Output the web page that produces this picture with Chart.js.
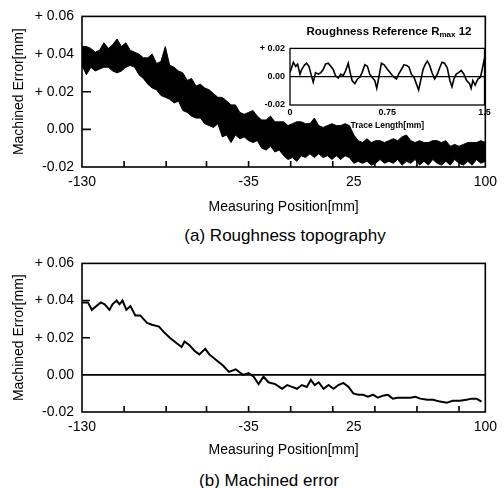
<!DOCTYPE html>
<html>
<head>
<meta charset="utf-8">
<script src="https://cdn.jsdelivr.net/npm/chart.js@4.4.0/dist/chart.umd.min.js"></script>
<style>
  html, body { margin: 0; padding: 0; background: #fff; }
  body { width: 504px; height: 488px; position: relative; overflow: hidden;
         font-family: "Liberation Sans", Arial, sans-serif; color: #000; }
  canvas { position: absolute; }
  .cap { position: absolute; font-size: 17px; white-space: nowrap; transform: translate(-50%, -50%); }
  #insetTitle { position: absolute; font-size: 11.5px; font-weight: bold; white-space: nowrap; transform: translate(-50%, -50%); }
  #insetTitle sub { font-size: 8px; vertical-align: -2px; }
</style>
</head>
<body>
<canvas id="topChart" style="left:0;top:0" width="504" height="216"></canvas>
<canvas id="insetChart" style="left:250px;top:38px" width="244" height="94"></canvas>
<canvas id="botChart" style="left:0;top:247px" width="504" height="212"></canvas>
<div id="insetTitle" style="left:389px;top:32px">Roughness Reference R<sub>max</sub> 12</div>
<div class="cap" style="left:285px;top:236px">(a) Roughness topography</div>
<div class="cap" style="left:269px;top:481px">(b) Machined error</div>

<script>
// ---------- data ----------
// axis ticks (main charts)
const yTickValues = [-0.02, 0, 0.02, 0.04, 0.06];
const yTickLabels = ["-0.02", "0.00", "+ 0.02", "+ 0.04", "+ 0.06"];
const xTickValues = [-130, -35, 25, 100];
const xTickLabels = ["-130", "-35", "25", "100"];
const xTickMarks = [-106, -82, -59, -35, -11, 13, 37, 61, 85];

// (a) roughness topography: upper / lower edge of the noisy trace
const posTop = [
  -130, -127.5, -125, -122.5, -120, -117.5, -115, -112.5, -110, -107.5,
  -105, -102.5, -100, -97.5, -95, -92.5, -90, -87.5, -85, -82.5,
  -80, -77.5, -75, -72.5, -70, -67.5, -65, -62.5, -60, -57.5,
  -55, -52.5, -50, -47.5, -45, -42.5, -40, -37.5, -35, -32.5,
  -30, -27.5, -25, -22.5, -20, -17.5, -15, -12.5, -10, -7.5,
  -5, -2.5, 0, 2.5, 5, 7.5, 10, 12.5, 15, 17.5,
  20, 22.5, 25, 27.5, 30, 32.5, 35, 37.5, 40, 42.5,
  45, 47.5, 50, 52.5, 55, 57.5, 60, 62.5, 65, 67.5,
  70, 72.5, 75, 77.5, 80, 82.5, 85, 87.5, 90, 92.5,
  95, 97.5, 100
];
const roughUpper = [
  0.044, 0.044, 0.043, 0.041, 0.042, 0.046, 0.043, 0.045, 0.048, 0.044,
  0.046, 0.042, 0.041, 0.040, 0.038, 0.038, 0.040, 0.035, 0.036, 0.044,
  0.034, 0.033, 0.031, 0.030, 0.026, 0.027, 0.023, 0.024, 0.022, 0.021,
  0.019, 0.017, 0.017, 0.015, 0.013, 0.013, 0.009, 0.008, 0.009, 0.010,
  0.007, 0.005, 0.005, 0.007, 0.004, 0.004, 0.004, 0.002, 0.003, 0.004,
  0.004, 0.003, 0.003, 0.006, 0.002, 0.001, 0.002, 0.003, 0.002, 0.002,
  0.003, 0.002, -0.003, -0.006, -0.007, -0.005, -0.007, -0.006, -0.006, -0.007,
  -0.006, -0.005, -0.006, -0.004, -0.003, -0.006, -0.007, -0.006, -0.007, -0.007,
  -0.006, -0.006, -0.007, -0.006, -0.009, -0.008, -0.009, -0.008, -0.007, -0.007,
  -0.007, -0.006, -0.007
];
const roughLower = [
  0.034, 0.029, 0.033, 0.031, 0.032, 0.033, 0.033, 0.031, 0.030, 0.031,
  0.033, 0.034, 0.033, 0.029, 0.027, 0.024, 0.022, 0.021, 0.018, 0.017,
  0.016, 0.014, 0.015, 0.010, 0.009, 0.007, 0.006, 0.006, 0.003, 0.002,
  0.001, 0.003, -0.004, -0.003, -0.007, -0.003, -0.005, -0.004, -0.006, -0.007,
  -0.006, -0.010, -0.011, -0.009, -0.012, -0.011, -0.014, -0.016, -0.015, -0.017,
  -0.014, -0.015, -0.013, -0.015, -0.013, -0.015, -0.014, -0.016, -0.014, -0.016,
  -0.014, -0.015, -0.018, -0.017, -0.018, -0.017, -0.019, -0.018, -0.016, -0.018,
  -0.017, -0.018, -0.016, -0.019, -0.017, -0.018, -0.016, -0.019, -0.017, -0.019,
  -0.016, -0.018, -0.019, -0.017, -0.019, -0.016, -0.018, -0.019, -0.017, -0.019,
  -0.016, -0.018, -0.017
];

// inset: roughness reference trace
const traceX = [
  0, 0.026, 0.044, 0.059, 0.077, 0.090, 0.110, 0.128, 0.146, 0.162,
  0.179, 0.197, 0.218, 0.238, 0.256, 0.274, 0.295, 0.315, 0.333, 0.351,
  0.372, 0.392, 0.410, 0.428, 0.449, 0.464, 0.479, 0.500, 0.521, 0.538,
  0.556, 0.577, 0.597, 0.615, 0.633, 0.654, 0.669, 0.685, 0.705, 0.726,
  0.744, 0.762, 0.782, 0.803, 0.821, 0.838, 0.859, 0.879, 0.900, 0.918,
  0.936, 0.956, 0.974, 0.992, 1.008, 1.026, 1.044, 1.059, 1.077, 1.095,
  1.115, 1.136, 1.154, 1.172, 1.192, 1.213, 1.233, 1.249, 1.264, 1.282,
  1.300, 1.321, 1.341, 1.362, 1.385, 1.397, 1.410, 1.428, 1.449, 1.469,
  1.487, 1.500
];
const traceY = [
  0.0029, 0.0102, 0.0073, 0.0089, 0.0018, 0.0051, 0.0080, 0.0095, 0.0073, 0.0018,
  -0.0038, 0.0029, 0.0018, 0.0029, 0.0051, 0.0089, 0.0095, 0.0073, 0.0051, 0.0007,
  -0.0009, 0.0018, 0.0007, 0.0040, 0.0095, 0.0029, -0.0027, -0.0049, -0.0016, -0.0004,
  0.0029, 0.0084, 0.0073, 0.0018, -0.0004, -0.0027, -0.0082, -0.0004, 0.0095, 0.0084,
  0.0062, 0.0040, 0.0018, -0.0004, -0.0016, 0.0018, 0.0051, 0.0084, 0.0080, 0.0067,
  0.0018, -0.0004, -0.0049, -0.0093, -0.0027, 0.0051, 0.0089, 0.0111, 0.0080, 0.0029,
  -0.0016, 0.0018, 0.0062, 0.0102, 0.0095, 0.0062, -0.0027, -0.0071, -0.0016, 0.0018,
  0.0029, 0.0044, 0.0018, -0.0027, -0.0049, -0.0082, -0.0027, -0.0060, -0.0016, -0.0004,
  0.0073, 0.0129
];
const insetYTicks = [-0.02, 0, 0.02];
const insetYLabels = ["-0.02", "0.00", "+ 0.02"];
const insetXTicks = [0, 0.75, 1.5];
const insetXLabels = ["0", "0.75", "1.5"];

// (b) machined error
const posB = [
  -130, -126.6, -124.4, -119.3, -117.1, -114.3, -112.6, -110.3, -108.6, -106.9,
  -104.7, -102.4, -99.6, -96.8, -92.9, -90.1, -86.1, -83.3, -79.9, -76.0,
  -73.2, -71.5, -68.7, -65.9, -63.1, -59.7, -57.4, -53.5, -49.6, -46.2,
  -42.3, -38.3, -35.0, -32.1, -29.3, -26.5, -23.7, -19.8, -15.8, -13.0,
  -10.2, -7.4, -4.6, -1.8, 0.5, 2.7, 5.0, 7.8, 10.6, 13.4,
  16.2, 19.0, 21.9, 24.7, 27.5, 30.3, 33.1, 35.9, 38.7, 41.5,
  44.4, 47.2, 50.0, 53.4, 57.3, 60.1, 62.9, 66.9, 70.2, 74.2,
  78.1, 81.5, 85.4, 89.3, 92.2, 95.0, 97.8
];
const errB = [
  0.039, 0.039, 0.035, 0.039, 0.038, 0.035, 0.038, 0.040, 0.038, 0.040,
  0.035, 0.037, 0.032, 0.032, 0.028, 0.027, 0.026, 0.023, 0.020, 0.017,
  0.015, 0.018, 0.016, 0.013, 0.011, 0.014, 0.011, 0.008, 0.005, 0.0016,
  0.003, 0.000, 0.001, -0.001, -0.005, -0.001, -0.004, -0.005, -0.0075, -0.0055,
  -0.0065, -0.0075, -0.0055, -0.0065, -0.0027, -0.0055, -0.004, -0.0075, -0.0055, -0.0075,
  -0.0055, -0.0043, -0.0064, -0.010, -0.0107, -0.0107, -0.0118, -0.0107, -0.0123, -0.0112,
  -0.0107, -0.0128, -0.0123, -0.0123, -0.0123, -0.0118, -0.0128, -0.0134, -0.0134, -0.0144,
  -0.015, -0.0139, -0.0139, -0.0134, -0.0128, -0.0128, -0.0144
];

// ---------- helpers ----------
Chart.defaults.font.family = '"Liberation Sans", Arial, sans-serif';
Chart.defaults.color = "#000";

function pts(xs, ys) {
  return xs.map((x, i) => ({ x, y: ys[i] }));
}

// frame box + inward tick marks + optional zero line, placed with the chart's scales
const framePlugin = {
  id: "frame",
  afterDatasetsDraw(chart, args, o) {
    const { ctx, chartArea: a, scales } = chart;
    ctx.save();
    ctx.strokeStyle = "#000";
    ctx.lineWidth = o.lineWidth;
    ctx.strokeRect(a.left, a.top, a.right - a.left, a.bottom - a.top);
    ctx.beginPath();
    (o.yMarks || []).forEach(v => {
      const y = scales.y.getPixelForValue(v);
      ctx.moveTo(a.left, y); ctx.lineTo(a.left + o.yLen, y);
    });
    (o.xMarks || []).forEach(v => {
      const x = scales.x.getPixelForValue(v);
      ctx.moveTo(x, a.bottom); ctx.lineTo(x, a.bottom - o.xLen);
    });
    if (o.zeroLine) {
      const y = scales.y.getPixelForValue(0);
      ctx.moveTo(a.left, y); ctx.lineTo(a.right, y);
    }
    ctx.stroke();
    ctx.restore();
  }
};

function mainScales(xHeight) {
  return {
    x: {
      type: "linear", min: -130, max: 100,
      afterBuildTicks: s => { s.ticks = xTickValues.map(v => ({ value: v })); },
      afterFit: s => { s.height = xHeight; },
      grid: { display: false, drawTicks: false },
      border: { display: false },
      ticks: { padding: 7, autoSkip: false, maxRotation: 0, font: { size: 14 },
               callback: (v, i) => xTickLabels[i] },
      title: { display: true, text: "Measuring Position[mm]", font: { size: 14 },
               padding: { top: 0, bottom: 0 } }
    },
    y: {
      type: "linear", min: -0.02, max: 0.06,
      afterBuildTicks: s => { s.ticks = yTickValues.map(v => ({ value: v })); },
      afterFit: s => { s.width = 82; },
      grid: { display: false, drawTicks: false },
      border: { display: false },
      ticks: { padding: 8, font: { size: 14 }, callback: (v, i) => yTickLabels[i] },
      title: { display: true, text: "Machined Error[mm]", font: { size: 14 },
               padding: { top: 11, bottom: 0 } }
    }
  };
}

// ---------- (a) roughness topography ----------
new Chart(document.getElementById("topChart"), {
  type: "line",
  data: {
    datasets: [
      { data: pts(posTop, roughUpper), borderColor: "#000", borderWidth: 1,
        pointRadius: 0, fill: false },
      { data: pts(posTop, roughLower), borderColor: "#000", borderWidth: 1,
        pointRadius: 0, fill: "-1", backgroundColor: "#000" }
    ]
  },
  options: {
    responsive: false, animation: false,
    layout: { padding: { top: 15, right: 12, left: 0, bottom: 0 } },
    plugins: {
      legend: { display: false }, tooltip: { enabled: false },
      frame: { lineWidth: 1.6, yMarks: [0, 0.02, 0.04], yLen: 9, xMarks: xTickMarks, xLen: 6 }
    },
    scales: mainScales(49)
  },
  plugins: [framePlugin]
});

// ---------- inset: roughness reference ----------
new Chart(document.getElementById("insetChart"), {
  type: "line",
  data: {
    datasets: [
      { data: pts(traceX, traceY), borderColor: "#000", borderWidth: 1.6,
        pointRadius: 0, fill: false }
    ]
  },
  options: {
    responsive: false, animation: false,
    layout: { padding: { top: 6, right: 9.5, left: 0, bottom: 0 } },
    plugins: {
      legend: { display: false }, tooltip: { enabled: false },
      frame: { lineWidth: 1.3, zeroLine: true }
    },
    scales: {
      x: {
        type: "linear", min: 0, max: 1.5,
        afterBuildTicks: s => { s.ticks = insetXTicks.map(v => ({ value: v })); },
        afterFit: s => { s.height = 27; },
        grid: { display: false, drawTicks: false },
        border: { display: false },
        ticks: { padding: 2, autoSkip: false, maxRotation: 0,
                 font: { size: 9, weight: "bold" }, callback: (v, i) => insetXLabels[i] },
        title: { display: true, text: "Trace Length[mm]", font: { size: 8.5, weight: "bold" },
                 padding: { top: 0, bottom: 1 } }
      },
      y: {
        type: "linear", min: -0.02, max: 0.02,
        afterBuildTicks: s => { s.ticks = insetYTicks.map(v => ({ value: v })); },
        afterFit: s => { s.width = 40; },
        grid: { display: false, drawTicks: false },
        border: { display: false },
        ticks: { padding: 5, font: { size: 9, weight: "bold" },
                 callback: (v, i) => insetYLabels[i] }
      }
    }
  },
  plugins: [framePlugin]
});

// ---------- (b) machined error ----------
new Chart(document.getElementById("botChart"), {
  type: "line",
  data: {
    datasets: [
      { data: pts(posB, errB), borderColor: "#000", borderWidth: 2,
        pointRadius: 0, fill: false }
    ]
  },
  options: {
    responsive: false, animation: false,
    layout: { padding: { top: 15, right: 13, left: 0, bottom: 0 } },
    plugins: {
      legend: { display: false }, tooltip: { enabled: false },
      frame: { lineWidth: 1.6, yMarks: [0.02, 0.04], yLen: 8, xMarks: xTickMarks, xLen: 6, zeroLine: true }
    },
    scales: mainScales(47)
  },
  plugins: [framePlugin]
});
</script>
</body>
</html>
